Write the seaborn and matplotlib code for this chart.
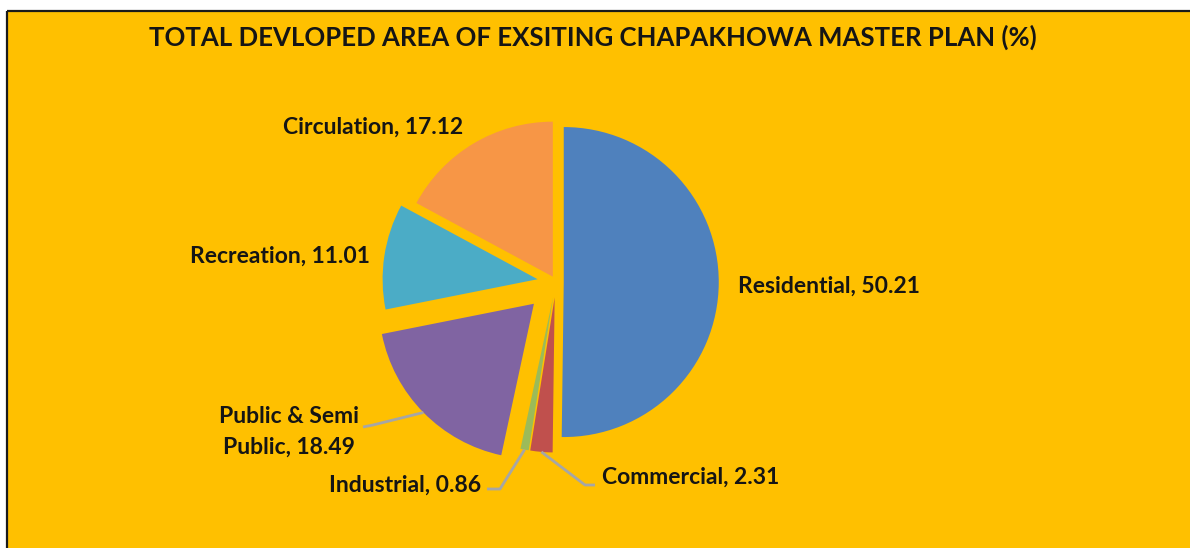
import matplotlib
matplotlib.use("Agg")
import matplotlib.pyplot as plt
import numpy as np
import seaborn as sns
from matplotlib.patches import Rectangle

# --- data -------------------------------------------------------------
categories = ["Residential", "Commercial", "Industrial",
              "Public & Semi Public", "Recreation", "Circulation"]
values = [50.21, 2.31, 0.86, 18.49, 11.01, 17.12]
label_texts = ["Residential, 50.21", "Commercial, 2.31", "Industrial, 0.86",
               "Public & Semi\nPublic, 18.49", "Recreation, 11.01",
               "Circulation, 17.12"]
title = "TOTAL DEVLOPED AREA OF EXSITING CHAPAKHOWA MASTER PLAN (%)"

# --- style ------------------------------------------------------------
sns.set_theme(style="white")
plt.rcParams["font.family"] = ["Lato", "DejaVu Sans"]

slice_colors = sns.color_palette(["#4F81BD", "#C0504D", "#9BBB59",
                                  "#8064A2", "#4BACC6", "#F79646"])
explode_frac = [0.05, 0.10, 0.10, 0.20, 0.12, 0.04]   # fraction of radius
bg = "#FFC000"
text_color = "#151515"
leader_color = "#A6A6A6"

W, H = 1190, 548
fig = plt.figure(figsize=(W / 100, H / 100), dpi=100)
fig.patch.set_facecolor("white")
ax = fig.add_axes([0, 0, 1, 1])


def Y(y):
    """Convert a top-down pixel row into the y-up axes coordinate."""
    return H - y


# chart area with its frame (top and left edges)
ax.add_patch(Rectangle((7, 0), W - 7, Y(11), facecolor=bg,
                       edgecolor="none", zorder=0))
ax.plot([7, W], [Y(11), Y(11)], color="#1a1a1a", lw=1.6, zorder=1,
        solid_capstyle="butt")
ax.plot([7, 7], [0, Y(11)], color="#1a1a1a", lw=1.6, zorder=1,
        solid_capstyle="butt")

center = (556, Y(282))
radius = 155
wedges, _ = ax.pie(values, colors=slice_colors,
                   explode=[f * radius for f in explode_frac],
                   startangle=90, counterclock=False,
                   center=center, radius=radius,
                   wedgeprops=dict(linewidth=0, zorder=2))

ax.set_xlim(0, W)
ax.set_ylim(0, H)
ax.set_aspect("equal")
ax.axis("off")

ax.text(593, Y(37), title, ha="center", va="center", fontsize=18.5,
        fontweight="bold", color=text_color)

label_fs = 16.5
# label anchors: (x, y, ha)
label_pos = [
    (738, 286, "left"),      # Residential
    (602, 477, "left"),      # Commercial
    (481, 485, "right"),     # Industrial
    (289, 432, "center"),    # Public & Semi Public
    (370, 256, "right"),     # Recreation
    (463, 127, "right"),     # Circulation
]
for text, (x, y, ha) in zip(label_texts, label_pos):
    ax.text(x, Y(y), text, ha=ha, va="center", fontsize=label_fs,
            fontweight="bold", color=text_color, linespacing=1.55, zorder=5)


def arc_mid(w):
    """Point on the outer arc at the slice's middle angle."""
    t = np.deg2rad((w.theta1 + w.theta2) / 2)
    cx, cy = w.center
    return cx + w.r * np.cos(t), cy + w.r * np.sin(t)


# leader lines: label end -> short horizontal -> slice arc
leaders = {
    1: [(595, 485), (585, 485)],   # Commercial
    2: [(487, 489), (500, 489)],   # Industrial
    3: [(363, 427), (373, 425)],   # Public & Semi Public
}
for idx, pts in leaders.items():
    mx, my = arc_mid(wedges[idx])
    xs = [p[0] for p in pts] + [mx]
    ys = [Y(p[1]) for p in pts] + [my]
    ax.plot(xs, ys, color=leader_color, lw=2.0, zorder=3,
            solid_capstyle="butt")

fig.savefig("out.png", dpi=100, facecolor=fig.get_facecolor())
